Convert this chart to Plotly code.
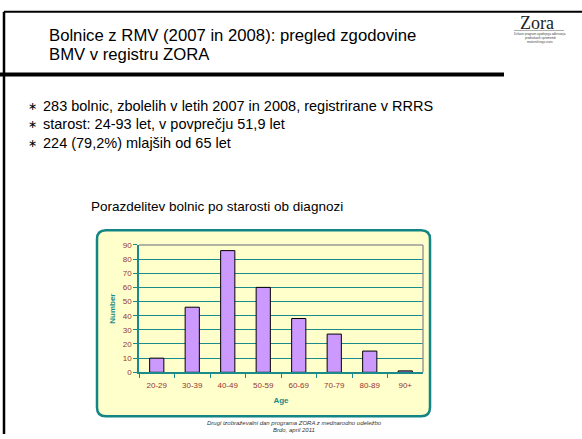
import plotly.graph_objects as go

W, H = 582, 439

age_groups = ['20-29', '30-39', '40-49', '50-59', '60-69', '70-79', '80-89', '90+']
patients = [10, 46, 86, 60, 38, 27, 15, 1]
y_ticks = [0, 10, 20, 30, 40, 50, 60, 70, 80, 90]

title_lines = ['Bolnice z RMV (2007 in 2008): pregled zgodovine', 'BMV v registru ZORA']
bullets = ['283 bolnic, zbolelih v letih 2007 in 2008, registrirane v RRRS',
           'starost: 24-93 let, v povprečju 51,9 let',
           '224 (79,2%) mlajših od 65 let']
chart_title = 'Porazdelitev bolnic po starosti ob diagnozi'
footer = ['Drugi izobraževalni dan programa ZORA z mednarodno udeležbo', 'Brdo, april 2011']
logo_small = ['Državni program zgodnjega odkrivanja', 'predrakavih sprememb', 'materničnega vratu']


def px(x):
    return x / W


def py(y):
    return 1 - y / H


teal = '#1A8A8A'
brown = '#993333'

fig = go.Figure(go.Bar(
    x=age_groups, y=patients,
    marker=dict(color='#CC99FF', line=dict(color='black', width=1)),
    width=0.4,
))

# chart frame with rounded corners (paper coords)
x0, x1, y0, y1, r = 97, 430, 231, 421, 9
rx, ry = r / W, r / H
path = (f'M {px(x0)+rx},{py(y0)} L {px(x1)-rx},{py(y0)} Q {px(x1)},{py(y0)} {px(x1)},{py(y0)-ry} '
        f'L {px(x1)},{py(y1)+ry} Q {px(x1)},{py(y1)} {px(x1)-rx},{py(y1)} '
        f'L {px(x0)+rx},{py(y1)} Q {px(x0)},{py(y1)} {px(x0)},{py(y1)+ry} '
        f'L {px(x0)},{py(y0)-ry} Q {px(x0)},{py(y0)} {px(x0)+rx},{py(y0)} Z')

shapes = [
    dict(type='path', path=path, xref='paper', yref='paper', fillcolor='#FFFFCC',
         line=dict(color='#138585', width=2.5), layer='below'),
    # slide lines
    dict(type='line', xref='paper', yref='paper', x0=px(4), x1=1, y0=py(8), y1=py(8),
         line=dict(color='black', width=2)),
    dict(type='line', xref='paper', yref='paper', x0=px(4), x1=px(4), y0=py(8), y1=0,
         line=dict(color='black', width=2.5)),
    dict(type='line', xref='paper', yref='paper', x0=0, x1=px(504), y0=py(72), y1=py(72),
         line=dict(color='black', width=4)),
    # plot area gray border top/right
    dict(type='line', xref='paper', yref='paper', x0=px(139), x1=px(423), y0=py(246), y1=py(246),
         line=dict(color='#999999', width=1.5)),
    dict(type='line', xref='paper', yref='paper', x0=px(423), x1=px(423), y0=py(246), y1=py(376),
         line=dict(color='#999999', width=1.5)),
    # logo swoosh
    dict(type='line', xref='paper', yref='paper', x0=px(514), x1=px(564), y0=py(27), y1=py(27),
         line=dict(color='#AAAAAA', width=1)),
]

ann = []
for i, t in enumerate(title_lines):
    ann.append(dict(text=t, x=px(47), y=py(32 + 20 * i), xanchor='left', yanchor='middle',
                    font=dict(size=16.7, color='black')))
for i, t in enumerate(bullets):
    yy = py(104 + 19 * i)
    ann.append(dict(text='∗', x=px(32), y=yy, xanchor='center', yanchor='middle',
                    font=dict(size=11, color='black')))
    ann.append(dict(text=t, x=px(41), y=yy, xanchor='left', yanchor='middle',
                    font=dict(size=14.5, color='black')))
ann.append(dict(text=chart_title, x=px(217), y=py(207), xanchor='center', yanchor='middle',
                font=dict(size=13.5, color='black')))
for i, t in enumerate(footer):
    ann.append(dict(text=f'<i>{t}</i>', x=px(294), y=py(428 + 7 * i), xanchor='center', yanchor='middle',
                    font=dict(size=6, color='#333333')))
ann.append(dict(text='Zora', x=px(537), y=py(19), xanchor='center', yanchor='middle',
                font=dict(size=18, color='#222222', family='Liberation Serif, serif')))
for i, t in enumerate(logo_small):
    ann.append(dict(text=t, x=px(540), y=py(31 + 4 * i), xanchor='center', yanchor='middle',
                    font=dict(size=3, color='#444444')))
for a in ann:
    a.update(xref='paper', yref='paper', showarrow=False)

fig.update_layout(
    width=W, height=H,
    margin=dict(l=0, r=0, t=0, b=0),
    paper_bgcolor='white', plot_bgcolor='#FFFFCC',
    font=dict(family='Liberation Sans, Arial, sans-serif'),
    showlegend=False,
    shapes=shapes,
    annotations=ann,
    xaxis=dict(domain=[px(139), px(423)], tickson='boundaries', ticks='outside', ticklen=4,
               ticklabelstandoff=4,
               tickcolor=teal, showline=True, linecolor=teal, linewidth=1.5,
               tickfont=dict(size=8, color=brown),
               title=dict(text='<b>Age</b>', font=dict(size=8, color=teal), standoff=9)),
    yaxis=dict(domain=[py(376), py(246)], range=[0, 90], tickvals=y_ticks, ticks='outside', ticklen=4,
               tickcolor=teal, showline=True, linecolor=teal, linewidth=1.5,
               gridcolor=teal, gridwidth=1, zeroline=False,
               tickfont=dict(size=8, color=brown),
               title=dict(text='<b>Number</b>', font=dict(size=8, color=teal), standoff=6)),
)

fig.write_html('out.html', config={'displayModeBar': False},
               post_script="document.body.style.margin='0';")
